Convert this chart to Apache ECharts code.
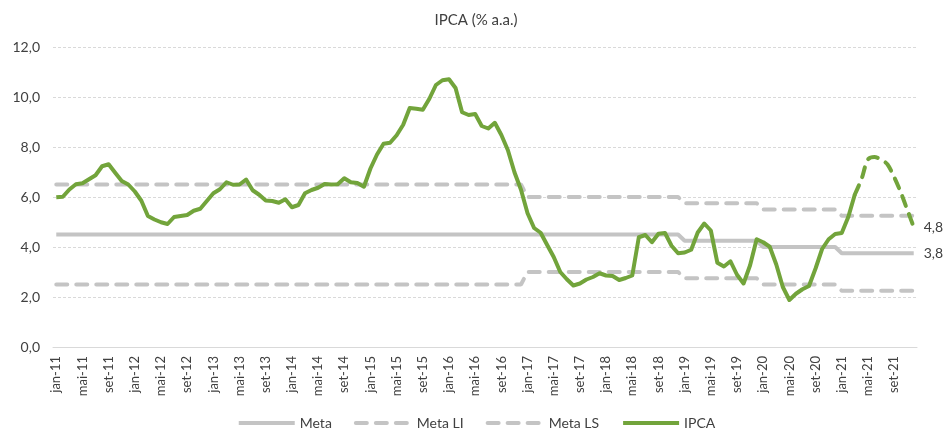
<!DOCTYPE html>
<html>
<head>
<meta charset="utf-8">
<title>IPCA (% a.a.)</title>
<script src="https://cdn.jsdelivr.net/npm/echarts@6/dist/echarts.min.js"></script>
<style>
  html, body { margin: 0; padding: 0; background: #fff; }
  #chart { width: 952px; height: 439px; }
</style>
</head>
<body>
<div id="chart"></div>
<script>
// meses jan-11 .. dez-21
const monthNames = ['jan', 'fev', 'mar', 'abr', 'mai', 'jun', 'jul', 'ago', 'set', 'out', 'nov', 'dez']
const years = [11, 12, 13, 14, 15, 16, 17, 18, 19, 20, 21]

// metas anuais (2011..2021)
const metaByYear = [4.5, 4.5, 4.5, 4.5, 4.5, 4.5, 4.5, 4.5, 4.25, 4.0, 3.75]
const metaLIByYear = [2.5, 2.5, 2.5, 2.5, 2.5, 2.5, 3.0, 3.0, 2.75, 2.5, 2.25]
const metaLSByYear = [6.5, 6.5, 6.5, 6.5, 6.5, 6.5, 6.0, 6.0, 5.75, 5.5, 5.25]

// IPCA 12 meses, realizado (jan-11 .. mar-21)
const ipca = [
  5.99, 6.01, 6.30, 6.51, 6.55, 6.71, 6.87, 7.23, 7.31, 6.97, 6.64, 6.50,
  6.22, 5.85, 5.24, 5.10, 4.99, 4.92, 5.20, 5.24, 5.28, 5.45, 5.53, 5.84,
  6.15, 6.31, 6.59, 6.49, 6.50, 6.70, 6.27, 6.09, 5.86, 5.84, 5.77, 5.91,
  5.59, 5.68, 6.15, 6.28, 6.37, 6.52, 6.50, 6.51, 6.75, 6.59, 6.56, 6.41,
  7.14, 7.70, 8.13, 8.17, 8.47, 8.89, 9.56, 9.53, 9.49, 9.93, 10.48, 10.67,
  10.71, 10.36, 9.39, 9.28, 9.32, 8.84, 8.74, 8.97, 8.48, 7.87, 6.99, 6.29,
  5.35, 4.76, 4.57, 4.08, 3.60, 3.00, 2.71, 2.46, 2.54, 2.70, 2.80, 2.95,
  2.86, 2.84, 2.68, 2.76, 2.86, 4.39, 4.48, 4.19, 4.53, 4.56, 4.05, 3.75,
  3.78, 3.89, 4.58, 4.94, 4.66, 3.37, 3.22, 3.43, 2.89, 2.54, 3.27, 4.31,
  4.19, 4.01, 3.30, 2.40, 1.88, 2.13, 2.31, 2.44, 3.14, 3.92, 4.31, 4.52,
  4.56, 5.20, 6.10
]
// projeção (mar-21 .. dez-21)
const ipcaForecast = [6.10, 6.7, 7.5, 7.6, 7.5, 7.3, 6.8, 6.2, 5.5, 4.8]

const yTicks = [0, 2, 4, 6, 8, 10, 12]

const months = []
years.forEach(y => monthNames.forEach(m => months.push(m + '-' + y)))

const expand = arr => {
  const out = []
  arr.forEach(v => { for (let i = 0; i < 12; i++) out.push(v) })
  return out
}
const forecastStart = ipca.length - 1
const forecastData = months.map((m, i) => (i >= forecastStart ? ipcaForecast[i - forecastStart] : null))

const grey = '#c4c4c4'
const green = '#72a43b'
const textColor = '#404040'
const font = 'Lato'
const fmt = v => v.toFixed(1).replace('.', ',')

const endLabel = {
  show: true,
  distance: 10,
  color: textColor,
  fontSize: 14,
  fontFamily: font,
  formatter: p => fmt(p.value)
}

const chart = echarts.init(document.getElementById('chart'), null, { renderer: 'canvas' })
chart.setOption({
  animation: false,
  textStyle: { fontFamily: font },
  title: {
    text: 'IPCA (% a.a.)',
    left: 'center',
    top: 8,
    textStyle: { fontSize: 15, fontWeight: 'normal', color: textColor, fontFamily: font }
  },
  grid: { left: 53, right: 35, top: 47, bottom: 92 },
  legend: {
    bottom: 4,
    left: 'center',
    itemWidth: 56,
    itemHeight: 10,
    itemGap: 22,
    itemStyle: { opacity: 0 },
    lineStyle: { width: 4 },
    textStyle: { fontSize: 14, color: textColor, fontFamily: font },
    data: ['Meta', 'Meta LI', 'Meta LS', 'IPCA']
  },
  xAxis: {
    type: 'category',
    data: months,
    boundaryGap: true,
    axisLine: { lineStyle: { color: '#d9d9d9', width: 1 } },
    axisTick: { show: false },
    axisLabel: {
      interval: 3,
      rotate: 90,
      margin: 9,
      color: textColor,
      fontSize: 13,
      fontFamily: font
    }
  },
  yAxis: {
    type: 'value',
    min: yTicks[0],
    max: yTicks[yTicks.length - 1],
    interval: 2,
    axisLine: { show: false },
    axisTick: { show: false },
    axisLabel: {
      margin: 13,
      color: textColor,
      fontSize: 14,
      fontFamily: font,
      formatter: fmt
    },
    splitLine: { lineStyle: { color: '#d9d9d9', type: [3, 2], width: 1 } }
  },
  series: [
    {
      name: 'Meta',
      type: 'line',
      data: expand(metaByYear),
      symbol: 'none',
      lineStyle: { color: grey, width: 4 },
      itemStyle: { color: grey },
      endLabel: endLabel,
      z: 2
    },
    {
      name: 'Meta LI',
      type: 'line',
      data: expand(metaLIByYear),
      symbol: 'none',
      lineStyle: { color: grey, width: 4, type: [11, 9], cap: 'round' },
      itemStyle: { color: grey },
      z: 2
    },
    {
      name: 'Meta LS',
      type: 'line',
      data: expand(metaLSByYear),
      symbol: 'none',
      lineStyle: { color: grey, width: 4, type: [11, 9], cap: 'round' },
      itemStyle: { color: grey },
      z: 2
    },
    {
      name: 'IPCA',
      type: 'line',
      data: ipca,
      symbol: 'none',
      lineStyle: { color: green, width: 4, join: 'round' },
      itemStyle: { color: green },
      z: 3
    },
    {
      name: 'IPCA proj',
      type: 'line',
      data: forecastData,
      symbol: 'none',
      smooth: 0.3,
      lineStyle: { color: green, width: 4, type: [10, 9], cap: 'round' },
      itemStyle: { color: green },
      endLabel: endLabel,
      z: 3
    }
  ]
})
</script>
</body>
</html>
